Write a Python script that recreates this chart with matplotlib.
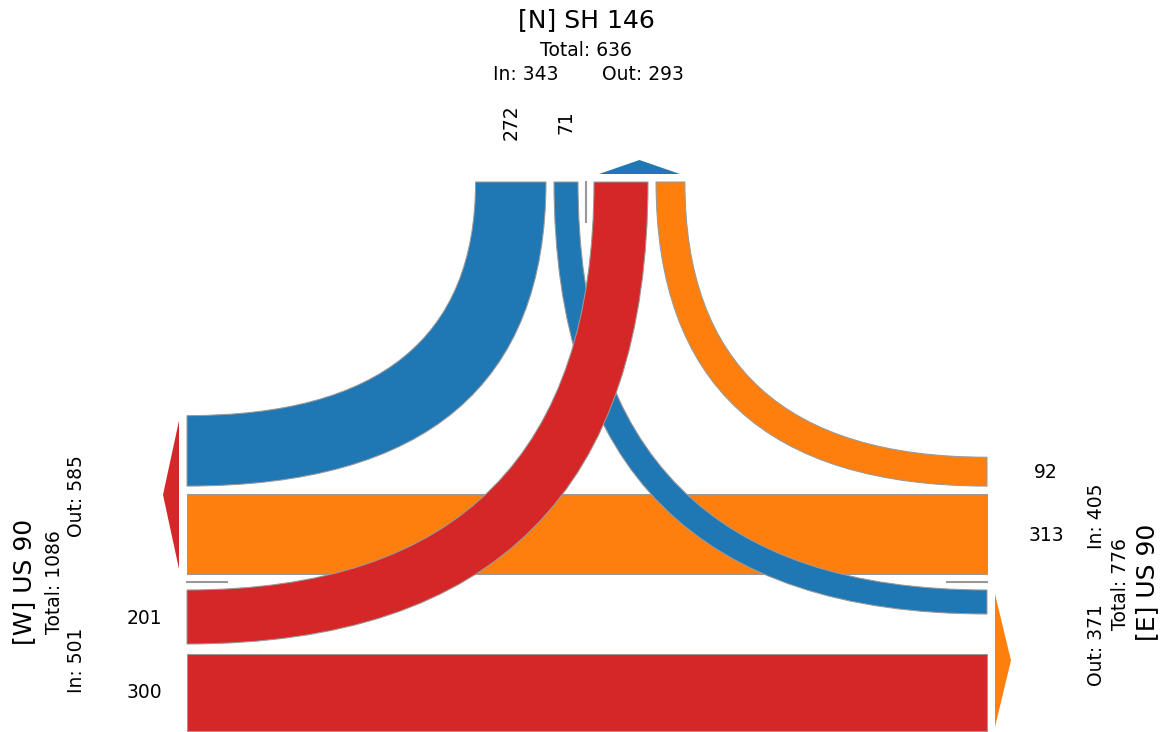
import numpy as np
import matplotlib.pyplot as plt
from matplotlib.path import Path
from matplotlib.patches import PathPatch, Polygon, Rectangle

# turning movement counts (from -> to)
n_to_w, n_to_e = 272, 71
w_to_n, w_to_e = 201, 300
e_to_n, e_to_w = 92, 313

leg_names = {'N': '[N] SH 146', 'W': '[W] US 90', 'E': '[E] US 90'}
leg_colors = {'N': '#1f77b4', 'W': '#d62728', 'E': '#ff7f0e'}

# layout in pixel units (y grows downwards)
XC, YC = 586, 582          # centre line of north leg / west-east road
X_W, X_E, Y_N = 187, 987, 182
GAP = 8
EDGE = '#999999'


def lane_w(v):
    return 7.6 + 0.231 * v


def band(ax, a, b, color, z):
    # a, b: (start, ctrl, end) of the two edges, quadratic bezier
    verts = [a[0], a[1], a[2], b[2], b[1], b[0], a[0]]
    codes = [Path.MOVETO, Path.CURVE3, Path.CURVE3, Path.LINETO,
             Path.CURVE3, Path.CURVE3, Path.CLOSEPOLY]
    ax.add_patch(PathPatch(Path(verts, codes), facecolor=color, edgecolor=EDGE,
                           lw=0.5, zorder=z))


def straight(ax, y0, y1, color, z):
    ax.add_patch(Rectangle((X_W, y0), X_E - X_W, y1 - y0, facecolor=color,
                           edgecolor=EDGE, lw=0.5, zorder=z))


fig = plt.figure(figsize=(7.76, 4.88), dpi=150)
ax = fig.add_axes([0, 0, 1, 1])
ax.set_xlim(0, 1164)
ax.set_ylim(732, 0)
ax.axis('off')

# lane positions
n71 = (XC - GAP - lane_w(n_to_e), XC - GAP)
n272 = (n71[0] - GAP - lane_w(n_to_w), n71[0] - GAP)
n201 = (XC + GAP, XC + GAP + lane_w(w_to_n))
n92 = (n201[1] + GAP, n201[1] + GAP + lane_w(e_to_n))

w313 = (YC - GAP - lane_w(e_to_w), YC - GAP)
w272 = (w313[0] - GAP - lane_w(n_to_w), w313[0] - GAP)
w201 = (YC + GAP, YC + GAP + lane_w(w_to_n))
w300 = (w201[1] + GAP + 2, w201[1] + GAP + 2 + lane_w(w_to_e))

e92 = (w313[0] - GAP - lane_w(e_to_n), w313[0] - GAP)
e71 = (YC + GAP, YC + GAP + lane_w(n_to_e))

# E approach (orange)
straight(ax, w313[0], w313[1], leg_colors['E'], 1)
band(ax, ((X_E, e92[0]), (n92[1], e92[0]), (n92[1], Y_N)),
     ((X_E, e92[1]), (n92[0], e92[1]), (n92[0], Y_N)), leg_colors['E'], 1)

# N approach (blue)
band(ax, ((n272[0], Y_N), (n272[0], w272[0]), (X_W, w272[0])),
     ((n272[1], Y_N), (n272[1], w272[1]), (X_W, w272[1])), leg_colors['N'], 2)
band(ax, ((n71[1], Y_N), (n71[1], e71[0]), (X_E, e71[0])),
     ((n71[0], Y_N), (n71[0], e71[1]), (X_E, e71[1])), leg_colors['N'], 2)

# W approach (red)
straight(ax, w300[0], w300[1], leg_colors['W'], 3)
band(ax, ((X_W, w201[0]), (n201[0], w201[0]), (n201[0], Y_N)),
     ((X_W, w201[1]), (n201[1], w201[1]), (n201[1], Y_N)), leg_colors['W'], 3)

# centre line stubs
ax.plot([XC, XC], [Y_N, Y_N + 40], color=EDGE, lw=1, zorder=4)
ax.plot([X_W, X_W + 40], [YC, YC], color=EDGE, lw=1, zorder=4)
ax.plot([X_E - 40, X_E], [YC, YC], color=EDGE, lw=1, zorder=4)

# exit arrows
lo, hi = n201[0], n92[1]
mid, half = (lo + hi) / 2, (hi - lo) / 2 - 5
ax.add_patch(Polygon([(mid - half, Y_N - 8), (mid, Y_N - 22), (mid + half, Y_N - 8)],
                     closed=True, facecolor=leg_colors['N'], edgecolor='none'))
lo, hi = w272[0], w313[1]
mid, half = (lo + hi) / 2, (hi - lo) / 2 - 5
ax.add_patch(Polygon([(X_W - 8, mid - half), (X_W - 24, mid), (X_W - 8, mid + half)],
                     closed=True, facecolor=leg_colors['W'], edgecolor='none'))
lo, hi = e71[0], w300[1]
mid, half = (lo + hi) / 2, (hi - lo) / 2 - 4
ax.add_patch(Polygon([(X_E + 8, mid - half), (X_E + 24, mid), (X_E + 8, mid + half)],
                     closed=True, facecolor=leg_colors['E'], edgecolor='none'))

# counts on entering lanes
ax.text(sum(n272) / 2, Y_N - 60, str(n_to_w), rotation=90, ha='center', va='center', fontsize=9)
ax.text(sum(n71) / 2, Y_N - 60, str(n_to_e), rotation=90, ha='center', va='center', fontsize=9)
ax.text(X_W - 43, sum(w201) / 2 + 1, str(w_to_n), ha='center', va='center', fontsize=9)
ax.text(X_W - 43, sum(w300) / 2, str(w_to_e), ha='center', va='center', fontsize=9)
ax.text(X_E + 59, sum(e92) / 2 + 1, str(e_to_n), ha='center', va='center', fontsize=9)
ax.text(X_E + 59, sum(w313) / 2 + 1, str(e_to_w), ha='center', va='center', fontsize=9)

# leg summaries
n_in, n_out = n_to_w + n_to_e, w_to_n + e_to_n
w_in, w_out = w_to_n + w_to_e, n_to_w + e_to_w
e_in, e_out = e_to_n + e_to_w, n_to_e + w_to_e

ax.text(XC, 20, leg_names['N'], ha='center', va='center', fontsize=12)
ax.text(XC, 50, f'Total: {n_in + n_out}', ha='center', va='center', fontsize=9)
ax.text(XC - 60, 75, f'In: {n_in}', ha='center', va='center', fontsize=9)
ax.text(XC + 57, 75, f'Out: {n_out}', ha='center', va='center', fontsize=9)

ax.text(24, YC, leg_names['W'], rotation=90, ha='center', va='center', fontsize=12)
ax.text(55, YC, f'Total: {w_in + w_out}', rotation=90, ha='center', va='center', fontsize=9)
ax.text(77, YC + 78, f'In: {w_in}', rotation=90, ha='center', va='center', fontsize=9)
ax.text(77, YC - 86, f'Out: {w_out}', rotation=90, ha='center', va='center', fontsize=9)

ax.text(1147, YC, leg_names['E'], rotation=90, ha='center', va='center', fontsize=12)
ax.text(1120, YC + 2, f'Total: {e_in + e_out}', rotation=90, ha='center', va='center', fontsize=9)
ax.text(1097, YC - 66, f'In: {e_in}', rotation=90, ha='center', va='center', fontsize=9)
ax.text(1097, YC + 63, f'Out: {e_out}', rotation=90, ha='center', va='center', fontsize=9)

fig.savefig('out.png', dpi=150)
